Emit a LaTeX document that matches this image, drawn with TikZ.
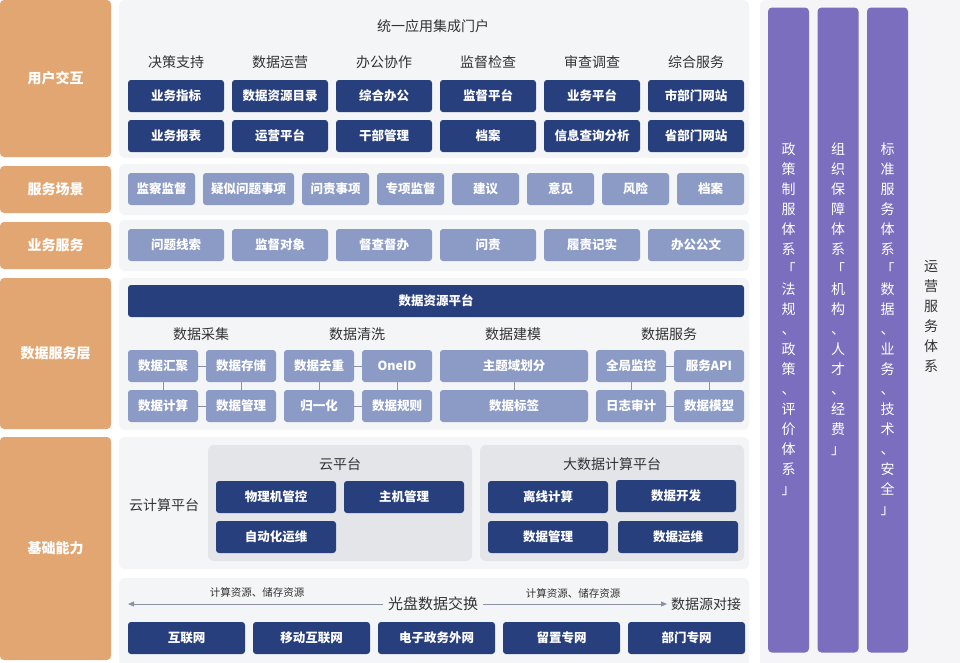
\documentclass[tikz,border=0pt]{standalone}
\usepackage{fontspec}
\setmainfont{Noto Sans CJK SC}
\usetikzlibrary{arrows.meta}
\definecolor{orng}{HTML}{E2A673}
\definecolor{navy}{HTML}{283F7E}
\definecolor{slate}{HTML}{8B9BC5}
\definecolor{purp}{HTML}{7B6EBF}
\definecolor{pnl}{HTML}{F4F5F7}
\definecolor{rpnl}{HTML}{F5F5F7}
\definecolor{innr}{HTML}{E4E5E8}
\definecolor{txt}{HTML}{333333}
\definecolor{lnk}{HTML}{8A93A6}
\begin{document}
\begin{tikzpicture}[x=1pt,y=-1pt,
  every node/.style={inner sep=0pt,outer sep=0pt},
  layer/.style={fill=orng,rounded corners=4pt,text=white,minimum width=111pt,font=\bfseries\fontsize{14}{16}\selectfont},
  panel/.style={fill=pnl,rounded corners=6pt},
  dbox/.style={fill=navy,rounded corners=3pt,text=white,minimum height=32pt,font=\bfseries\fontsize{12.5}{14}\selectfont},
  lbox/.style={fill=slate,rounded corners=3pt,text=white,minimum height=32pt,font=\bfseries\fontsize{12.5}{14}\selectfont},
  hdr/.style={text=txt,font=\fontsize{14}{16}\selectfont},
  small/.style={text=txt,font=\fontsize{10.5}{12}\selectfont},
  conn/.style={draw=lnk,line width=0.9pt},
  col/.style={fill=purp,rounded corners=4pt,minimum width=41pt,minimum height=645pt},
  vtext/.style={text=white,align=center,font=\fontsize{14}{20}\selectfont,anchor=north}
]
\useasboundingbox (0,0) rectangle (960,662);
\fill[white] (0,0) rectangle (960,662);

% ---- left layer labels ----
\node[layer,minimum height=157pt] (L1) at (55.5,78.5) {用户交互};
\node[layer,minimum height=47pt] (L2) at (55.5,189.5) {服务场景};
\node[layer,minimum height=47pt] (L3) at (55.5,245.5) {业务服务};
\node[layer,minimum height=151pt] (L4) at (55.5,353.5) {数据服务层};
\node[layer,minimum height=223pt] (L5) at (55.5,548.5) {基础能力};

% ---- panels ----
\fill[panel] (119,0) rectangle (749,158);
\fill[panel] (119,164) rectangle (749,215);
\fill[panel] (119,220) rectangle (749,271);
\fill[panel] (119,278) rectangle (749,430);
\fill[panel] (119,437) rectangle (749,569);
\fill[panel] (119,578) rectangle (749,668);
\fill[rpnl,rounded corners=6pt] (760,0) rectangle (966,668);

% ---- user interaction ----
\node[hdr] (portal) at (433,26) {统一应用集成门户};
\node[hdr] (h1) at (176,62) {决策支持};
\node[hdr] (h2) at (280,62) {数据运营};
\node[hdr] (h3) at (384,62) {办公协作};
\node[hdr] (h4) at (488,62) {监督检查};
\node[hdr] (h5) at (592,62) {审查调查};
\node[hdr] (h6) at (696,62) {综合服务};
\node[dbox,minimum width=96pt] (u11) at (176,96) {业务指标};
\node[dbox,minimum width=96pt] (u12) at (280,96) {数据资源目录};
\node[dbox,minimum width=96pt] (u13) at (384,96) {综合办公};
\node[dbox,minimum width=96pt] (u14) at (488,96) {监督平台};
\node[dbox,minimum width=96pt] (u15) at (592,96) {业务平台};
\node[dbox,minimum width=96pt] (u16) at (696,96) {市部门网站};
\node[dbox,minimum width=96pt] (u21) at (176,136) {业务报表};
\node[dbox,minimum width=96pt] (u22) at (280,136) {运营平台};
\node[dbox,minimum width=96pt] (u23) at (384,136) {干部管理};
\node[dbox,minimum width=96pt] (u24) at (488,136) {档案};
\node[dbox,minimum width=96pt] (u25) at (592,136) {信息查询分析};
\node[dbox,minimum width=96pt] (u26) at (696,136) {省部门网站};

% ---- service scenes ----
\node[lbox,minimum width=67pt] (s1) at (161.5,189) {监察监督};
\node[lbox,minimum width=91pt] (s2) at (248.5,189) {疑似问题事项};
\node[lbox,minimum width=67pt] (s3) at (335.5,189) {问责事项};
\node[lbox,minimum width=67pt] (s4) at (410.5,189) {专项监督};
\node[lbox,minimum width=67pt] (s5) at (485.5,189) {建议};
\node[lbox,minimum width=67pt] (s6) at (560.5,189) {意见};
\node[lbox,minimum width=67pt] (s7) at (635.5,189) {风险};
\node[lbox,minimum width=67pt] (s8) at (710.5,189) {档案};

% ---- business services ----
\node[lbox,minimum width=96pt] (b1) at (176,245) {问题线索};
\node[lbox,minimum width=96pt] (b2) at (280,245) {监督对象};
\node[lbox,minimum width=96pt] (b3) at (384,245) {督查督办};
\node[lbox,minimum width=96pt] (b4) at (488,245) {问责};
\node[lbox,minimum width=96pt] (b5) at (592,245) {履责记实};
\node[lbox,minimum width=96pt] (b6) at (696,245) {办公公文};

% ---- data services ----
\node[dbox,minimum width=616pt] (drp) at (436,301) {数据资源平台};
\node[hdr] (g1) at (201,334) {数据采集};
\node[hdr] (g2) at (357,334) {数据清洗};
\node[hdr] (g3) at (513,334) {数据建模};
\node[hdr] (g4) at (669,334) {数据服务};
\node[lbox,minimum width=70pt] (d11) at (163,366) {数据汇聚};
\node[lbox,minimum width=70pt] (d12) at (241,366) {数据存储};
\node[lbox,minimum width=70pt] (d13) at (319,366) {数据去重};
\node[lbox,minimum width=70pt] (d14) at (397,366) {OneID};
\node[lbox,minimum width=148pt] (d15) at (514,366) {主题域划分};
\node[lbox,minimum width=70pt] (d16) at (631,366) {全局监控};
\node[lbox,minimum width=70pt] (d17) at (709,366) {服务API};
\node[lbox,minimum width=70pt] (d21) at (163,406) {数据计算};
\node[lbox,minimum width=70pt] (d22) at (241,406) {数据管理};
\node[lbox,minimum width=70pt] (d23) at (319,406) {归一化};
\node[lbox,minimum width=70pt] (d24) at (397,406) {数据规则};
\node[lbox,minimum width=148pt] (d25) at (514,406) {数据标签};
\node[lbox,minimum width=70pt] (d26) at (631,406) {日志审计};
\node[lbox,minimum width=70pt] (d27) at (709,406) {数据模型};
\foreach \a/\b in {d11/d12,d21/d22,d13/d14,d23/d24,d16/d17,d26/d27}
  \draw[conn] (\a.east) -- (\b.west);
\foreach \a/\b in {d11/d21,d12/d22,d13/d23,d14/d24,d15/d25,d16/d26,d17/d27}
  \draw[conn] (\a.south) -- (\b.north);

% ---- base capabilities: cloud ----
\node[hdr] (ccp) at (164,505) {云计算平台};
\fill[innr,rounded corners=6pt] (208,445) rectangle (472,561);
\fill[innr,rounded corners=6pt] (480,445) rectangle (744,561);
\node[hdr] (cp) at (340,464) {云平台};
\node[hdr] (bdp) at (612,464) {大数据计算平台};
\node[dbox,minimum width=120pt] (c1) at (276,497) {物理机管控};
\node[dbox,minimum width=120pt] (c2) at (404,497) {主机管理};
\node[dbox,minimum width=120pt] (c3) at (276,537) {自动化运维};
\node[dbox,minimum width=120pt] (e1) at (548,497) {离线计算};
\node[dbox,minimum width=120pt] (e2) at (676,496) {数据开发};
\node[dbox,minimum width=120pt] (e3) at (548,537) {数据管理};
\node[dbox,minimum width=120pt] (e4) at (678,537) {数据运维};

% ---- base capabilities: network ----
\node[text=txt,font=\fontsize{15}{17}\selectfont,inner xsep=5pt] (xch) at (433,604) {光盘数据交换};
\node[hdr,anchor=west,inner xsep=4pt] (src) at (667,604) {数据源对接};
\coordinate (lend) at (128,604);
\draw[lnk,line width=0.9pt,-{Triangle[length=6pt,width=5pt]}] (xch.west) -- (lend);
\draw[lnk,line width=0.9pt,-{Triangle[length=6pt,width=5pt]}] (xch.east) -- (src.west);
\node[small] (r1) at (257,592) {计算资源、储存资源};
\node[small] (r2) at (573,593) {计算资源、储存资源};
\node[dbox,minimum width=117pt] (n1) at (186.5,638) {互联网};
\node[dbox,minimum width=117pt] (n2) at (311.5,638) {移动互联网};
\node[dbox,minimum width=117pt] (n3) at (436.5,638) {电子政务外网};
\node[dbox,minimum width=117pt] (n4) at (561.5,638) {留置专网};
\node[dbox,minimum width=117pt] (n5) at (686.5,638) {部门专网};

% ---- right columns ----
\node[col] (k1) at (788.5,330) {};
\node[col] (k2) at (838,330) {};
\node[col] (k3) at (887.5,330) {};
\node[vtext] (t1) at (788.5,143) {政\\策\\制\\服\\体\\系\\「\\法\\规\\、\\政\\策\\、\\评\\价\\体\\系\\」};
\node[vtext] (t2) at (838,143) {组\\织\\保\\障\\体\\系\\「\\机\\构\\、\\人\\才\\、\\经\\费\\」};
\node[vtext] (t3) at (887.5,143) {标\\准\\服\\务\\体\\系\\「\\数\\据\\、\\业\\务\\、\\技\\术\\、\\安\\全\\」};
\node[vtext,text=txt] (t4) at (931,260) {运\\营\\服\\务\\体\\系};
\end{tikzpicture}
\end{document}
